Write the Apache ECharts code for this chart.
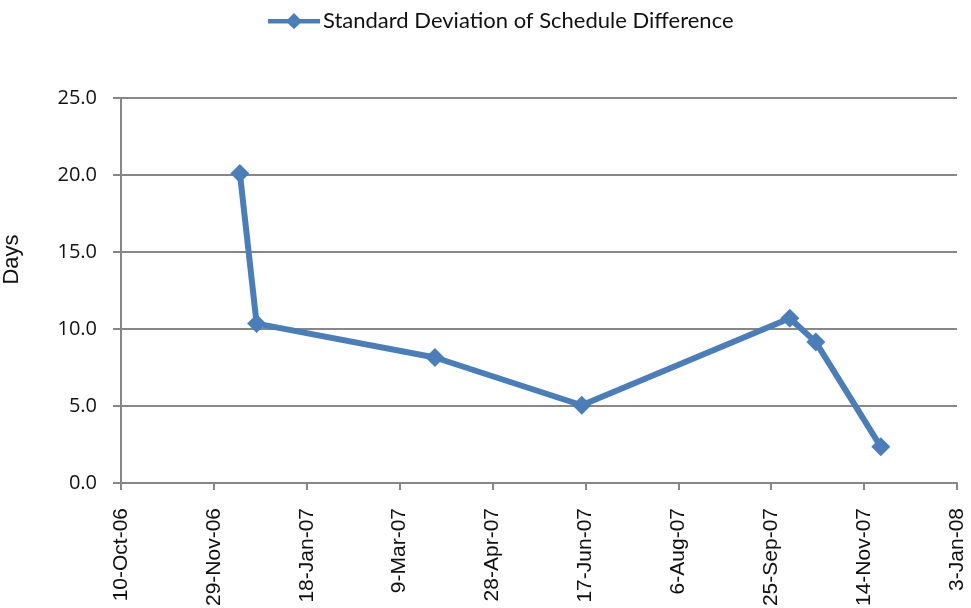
<!DOCTYPE html>
<html>
<head>
<meta charset="utf-8">
<script src="https://cdn.jsdelivr.net/npm/echarts@6/dist/echarts.min.js"></script>
<style>
  html, body { margin: 0; padding: 0; background: #fff; }
  #chart { width: 971px; height: 608px; }
</style>
</head>
<body>
<div id="chart"></div>
<script>
// dates of each measurement and the std deviation (days)
const dates = ['2006-12-13', '2006-12-22', '2007-03-28', '2007-06-15', '2007-10-05', '2007-10-19', '2007-11-23'];
const stdDev = [20.1, 10.35, 8.15, 5.05, 10.7, 9.15, 2.35];
const seriesName = 'Standard Deviation of Schedule Difference';
const axisName = 'Days';

// x axis uses spreadsheet day serials: 39000 = 10-Oct-06, ticks every 50 days
const xMin = 39000;
const xMax = 39450;
const xStep = 50;
const months = ['Jan', 'Feb', 'Mar', 'Apr', 'May', 'Jun', 'Jul', 'Aug', 'Sep', 'Oct', 'Nov', 'Dec'];

const epoch = Date.UTC(1899, 11, 30);
function toSerial(s) {
  const p = s.split('-');
  return Math.round((Date.UTC(+p[0], +p[1] - 1, +p[2]) - epoch) / 86400000);
}
function serialLabel(v) {
  const d = new Date(epoch + v * 86400000);
  const yy = String(d.getUTCFullYear() % 100).padStart(2, '0');
  return d.getUTCDate() + '-' + months[d.getUTCMonth()] + '-' + yy;
}

const chart = echarts.init(document.getElementById('chart'));
const gray = '#878787';

chart.setOption({
  animation: false,
  legend: {
    top: 5,
    left: 263,
    itemWidth: 52,
    itemHeight: 16,
    textStyle: { fontFamily: 'Lato', fontSize: 22, color: '#111', padding: [0, 0, 0, -2] },
    data: [{ name: seriesName, icon: 'path://M0,6 L20,6 L26,0 L32,6 L52,6 L52,10.5 L32,10.5 L26,16 L20,10.5 L0,10.5 Z' }]
  },
  grid: { left: 121, right: 14, top: 98, bottom: 125, containLabel: false, outerBoundsMode: 'none' },
  xAxis: {
    type: 'value',
    min: xMin,
    max: xMax,
    interval: xStep,
    axisLine: { lineStyle: { color: gray, width: 2 } },
    axisTick: { show: true, length: 7, lineStyle: { color: gray, width: 2 } },
    splitLine: { show: false },
    axisLabel: {
      rotate: 90,
      margin: 25,
      fontFamily: 'Arial',
      fontSize: 21,
      color: '#111',
      formatter: serialLabel
    }
  },
  yAxis: {
    type: 'value',
    min: 0,
    max: 25,
    interval: 5,
    name: axisName,
    nameLocation: 'middle',
    nameGap: 98,
    nameRotate: 90,
    // the title sits a little above the middle of the plot
    nameTextStyle: { fontFamily: 'Arial', fontSize: 22, color: '#111', padding: [0, 0, 0, 62] },
    axisLine: { show: true, lineStyle: { color: gray, width: 2 } },
    axisTick: { show: true, length: 8, lineStyle: { color: gray, width: 2 } },
    splitLine: { lineStyle: { color: gray, width: 2 } },
    axisLabel: {
      margin: 24,
      fontFamily: 'Open Sans',
      fontSize: 20,
      color: '#111',
      formatter: v => v.toFixed(1)
    }
  },
  series: [{
    name: seriesName,
    type: 'line',
    data: dates.map((d, i) => [toSerial(d), stdDev[i]]),
    symbol: 'diamond',
    symbolSize: 19,
    lineStyle: { color: '#4A7EBB', width: 6 },
    itemStyle: { color: '#4A7EBB' }
  }]
});
</script>
</body>
</html>
